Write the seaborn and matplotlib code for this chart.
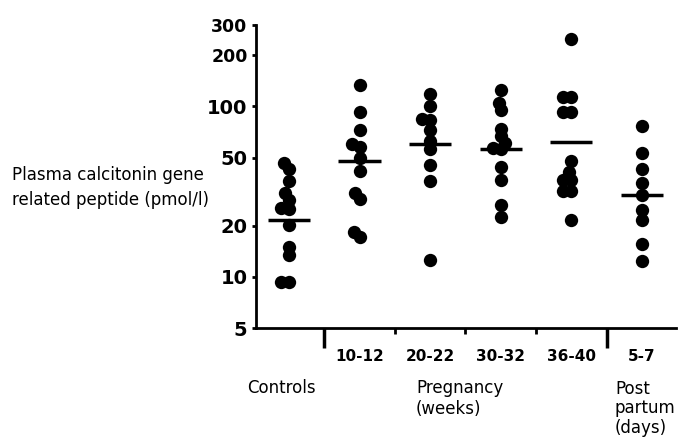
import numpy as np
import pandas as pd
import seaborn as sns
import matplotlib.pyplot as plt
import matplotlib.transforms as mtransforms

# 各组数据 (pmol/l)
groups = ["Controls", "10-12", "20-22", "30-32", "36-40", "5-7"]
controls = [46.7, 43.0, 36.6, 31.0, 28.3, 25.5, 25.0, 20.2, 14.9, 13.4, 9.3, 9.3]
preg_10_12 = [134, 93, 73, 60, 58, 50, 42, 31, 28.5, 18.4, 17.2]
preg_20_22 = [118, 101, 84, 83, 73, 63, 56.5, 45, 36.6, 12.6]
preg_30_32 = [124, 105, 95, 74, 66.6, 61, 57, 56, 44.3, 37, 26.2, 22.5]
preg_36_40 = [248, 113, 113, 92, 92, 48, 41, 37.2, 37.2, 32, 32, 21.4]
post_5_7 = [77, 52.9, 42.7, 35.4, 30, 24.5, 21.4, 15.6, 12.4]
group_means = [21.6, 48, 60, 56, 62, 30]
tick_labels = ["", "10-12", "20-22", "30-32", "36-40", "5-7"]
yticks = [5, 10, 20, 50, 100, 200, 300]

values = [controls, preg_10_12, preg_20_22, preg_30_32, preg_36_40, post_5_7]
df = pd.DataFrame({
    "group": np.repeat(groups, [len(v) for v in values]),
    "value": np.concatenate(values),
})

sns.set_style("white", {"text.color": "black", "axes.labelcolor": "black",
                        "xtick.color": "black", "ytick.color": "black",
                        "axes.edgecolor": "black"})
plt.rcParams['font.family'] = ['DejaVu Sans']

fig = plt.figure(figsize=(6.86, 4.37), dpi=100)
ax = fig.add_axes([0.373, 0.249, 0.612, 0.694])
ax.set_yscale("log")

# 先用较小点计算蜂群位置（允许圆点重叠，接近原图）
sns.swarmplot(data=df, x="group", y="value", order=groups, color="black",
              size=5.5, ax=ax, linewidth=0)
ax.set_ylim(5, 300)
ax.set_xlim(-0.47, 5.48)
fig.canvas.draw()
for coll in ax.collections:
    if "draw" in coll.__dict__:
        del coll.draw
    coll.set_sizes([9.6 ** 2])

# 组均值横线
for i, m in enumerate(group_means):
    ax.hlines(m, i - 0.3, i + 0.3, color="black", lw=2.5, zorder=5)

ax.set_yticks(yticks)
ax.set_yticklabels([str(t) for t in yticks], fontweight="bold")
for lab, fs in zip(ax.get_yticklabels(), [14, 14, 14, 14, 14, 12.5, 12.5]):
    lab.set_fontsize(fs)
ax.yaxis.set_minor_locator(plt.NullLocator())
ax.tick_params(axis="y", direction="out", length=3, width=2, pad=3, left=True)

ax.set_xticks(range(len(groups)))
ax.set_xticklabels(tick_labels, fontsize=11, fontweight="bold")
ax.tick_params(axis="x", which="major", length=0, pad=15)
ax.set_xticks([1.5, 2.5, 3.5], minor=True)
ax.tick_params(axis="x", which="minor", direction="out", length=4, width=2,
               bottom=True)

# 长分隔刻度
trans = mtransforms.blended_transform_factory(ax.transData, ax.transAxes)
for xpos in [0.5, 4.5]:
    ax.plot([xpos, xpos], [0, -0.066], transform=trans, color="black",
            lw=2.5, clip_on=False, solid_capstyle="butt")

ax.set_xlabel("")
ax.set_ylabel("")
sns.despine(ax=ax)
for s in ["left", "bottom"]:
    ax.spines[s].set_linewidth(2)

fig.text(12 / 686, 1 - 187 / 437,
         "Plasma calcitonin gene\nrelated peptide (pmol/l)",
         fontsize=12, ha="left", va="center", linespacing=1.5)
fig.text(281 / 686, 1 - 388 / 437, "Controls", fontsize=12,
         ha="center", va="center")
fig.text(416 / 686, 1 - 379 / 437, "Pregnancy\n(weeks)", fontsize=12,
         ha="left", va="top")
fig.text(615 / 686, 1 - 380 / 437, "Post\npartum\n(days)", fontsize=12,
         ha="left", va="top", linespacing=1.1)

plt.savefig("out.png", dpi=100)
